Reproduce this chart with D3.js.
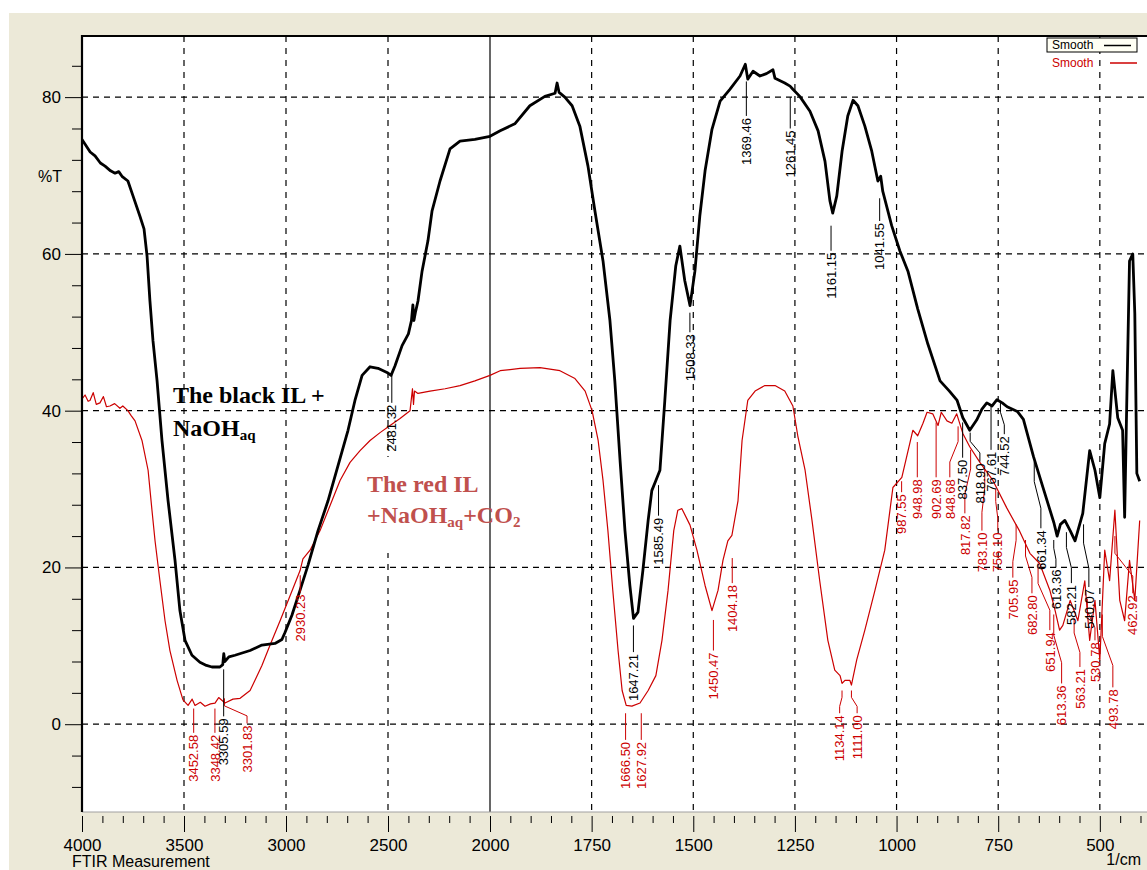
<!DOCTYPE html>
<html><head><meta charset="utf-8">
<script src="https://cdn.jsdelivr.net/npm/d3@7"></script>
<style>body{margin:0;background:#fff}svg{display:block}</style>
</head><body><svg id="c" width="1147" height="870"></svg>
<script>
// ---------- DATA ----------
const blackNu = [4000,3960,3936,3910,3887,3860,3838,3820,3804,3775,3750,3716,3696,3681,3667,3652,3632,3608,3578,3544,3520,3495,3461,3422,3390,3363,3324,3310,3305,3300,3280,3250,3176,3118,3054,3020,3005,2971,2931,2892,2843,2794,2745,2696,2662,2627,2588,2549,2500,2485,2466,2431,2400,2385,2378,2373,2366,2353,2333,2304,2284,2245,2196,2147,2074,2000,1975,1939,1902,1865,1840,1835,1830,1816,1798,1779,1759,1742,1722,1705,1693,1680,1668,1656,1647,1636,1624,1611,1602,1592,1582,1570,1557,1543,1533,1521,1508,1496,1484,1471,1454,1434,1410,1385,1372,1366,1353,1336,1320,1304,1299,1275,1262,1255,1238,1213,1193,1176,1164,1157,1147,1134,1120,1107,1095,1078,1061,1046,1039,1034,1012,992,972,948,923,893,870,851,837,820,803,790,778,765,753,740,728,703,688,663,638,613,605,597,586,573,561,542,525,512,500,488,476,468,456,444,439,434,427,419,414,409,402];
const blackT = [74.6,73.0,72.5,71.6,71.2,70.6,70.3,70.5,69.9,69.3,67.4,64.8,63.2,59.7,54,48.9,43.8,36.2,28.5,20.9,14.5,10.7,8.8,7.9,7.5,7.3,7.3,7.6,9.0,8.0,8.6,8.8,9.4,10.1,10.3,10.8,11.7,13.9,17.1,20.3,24.7,28.5,33,37.5,41.3,44.5,45.6,45.4,44.8,44.5,45.7,48.3,49.8,51.5,53.5,51.5,52.5,54,57.8,61.7,65.5,69.3,73.4,74.4,74.6,75,75.7,76.6,78.9,80.1,80.5,81.8,80.6,80,78.9,76.3,71.2,65.5,59.1,51.5,43.8,33.6,24.7,17.7,13.5,14.3,19.6,26,29.8,31.1,32.4,41.3,51.5,58.5,61,56.6,53.4,57.8,64.8,70.6,75.9,79.5,81,82.7,84.2,82.3,83.3,82.7,83.0,83.5,82.4,81.8,81.4,81,80.1,78.2,75.7,71.8,66.8,65.2,67.4,73.1,77.6,79.6,78.9,76.3,73.1,69.3,69.9,68,63.6,60.4,57.8,53,48.5,43.8,42.5,41.3,39.1,37.5,38.8,40.2,41,40.6,41.4,41.0,40.5,39.9,38.9,34.1,29.9,25.7,24.0,25.5,26,24.7,23.4,26.9,34.9,32.4,28.9,35.8,38.3,45.1,39.1,37.5,26.4,40.4,59.1,60,52.4,32,31];

const redNu = [4000,3985,3970,3961,3945,3930,3912,3895,3880,3863,3840,3814,3800,3775,3760,3740,3706,3676,3657,3642,3618,3593,3569,3534,3505,3480,3460,3446,3420,3397,3370,3348,3330,3299,3260,3225,3176,3152,3118,3078,3029,2980,2931,2917,2882,2833,2784,2735,2686,2637,2588,2539,2490,2441,2392,2380,2375,2370,2353,2294,2220,2147,2074,2000,1975,1926,1877,1828,1791,1766,1749,1734,1722,1710,1698,1685,1675,1665,1651,1631,1611,1592,1577,1562,1548,1538,1528,1508,1491,1471,1454,1439,1427,1415,1405,1390,1380,1366,1348,1324,1299,1275,1255,1243,1225,1208,1189,1169,1152,1139,1134,1127,1115,1111,1098,1078,1053,1029,1009,987,960,948,935,925,911,898,890,876,864,852,837,820,795,763,729,697,672,648,623,610,599,591,573,554,537,525,512,500,488,476,463,451,439,427,414,402];
const redT = [41.5,42.0,41.2,41.3,42.3,40.8,41.0,41.8,40.5,40.6,40.9,40.3,40.6,40,39.4,38.7,36.2,32.4,27.3,23.4,18.3,13.2,9.4,5.6,3.1,2.4,3.2,2.4,2.8,2.3,2.6,2.7,3.4,2.7,3.2,3.3,4.3,5.6,7.5,10.1,13.2,16.4,19.6,21.1,22.2,24.7,27.9,31.1,33.4,34.9,36.2,37.2,38.1,39,40,42.8,40.8,42.5,42.2,42.5,42.8,43.2,43.8,44.5,45.1,45.4,45.5,45.1,44.1,42.5,40,36.2,31.1,24.7,17.1,9.4,4.3,2.4,2.3,2.7,4.3,6.2,10.7,17.1,24.7,27.3,27.5,25.4,22.2,17.7,14.5,17.1,20.9,23.4,24.1,28.5,36.2,41.3,42.5,43.2,43.2,42.5,40.6,36.8,32.4,26,18.3,10.7,6.9,6.2,5.2,5.6,5.6,5.0,8.2,12,17.1,22.2,30.2,31.5,37.5,36.8,38.4,39.8,39.6,38.1,39.8,38.7,38.4,39.6,37.1,35.4,33.4,31.1,27.6,24.6,21.8,20.5,17.1,14.5,12,12.6,15.8,13.2,18.3,10.7,15.8,8.2,22.2,18.3,27.3,15.8,13.2,20.9,15.8,26];

// peak labels: wavenumber, %T where leader starts, %T where text starts, wavenumber where text sits
const blackPeaks = [
  {nu:3305.59, from:7.0, to:1.0},
  {nu:2481.32, from:44.5, to:41.0},
  {nu:1647.21, from:12.6, to:9.2},
  {nu:1585.49, from:30.5, to:26.6},
  {nu:1508.33, from:52.5, to:50.0},
  {nu:1369.46, from:82.0, to:77.6},
  {nu:1261.45, from:80.0, to:76.0},
  {nu:1161.15, from:63.6, to:60.4},
  {nu:1041.55, from:67.1, to:64.2},
  {nu:837.50, from:38.5, to:34.0},
  {nu:818.90, from:37.2, to:33.5, textNu:795},
  {nu:767.61, from:40.6, to:35.0},
  {nu:744.52, from:41.0, to:37.0, textNu:735},
  {nu:661.34, from:33.5, to:25.0, textNu:645},
  {nu:613.36, from:23.5, to:20.0, textNu:608},
  {nu:582.21, from:24.5, to:18.0, textNu:570},
  {nu:540.07, from:25.5, to:17.5, textNu:527}
];
const redPeaks = [
  {nu:3452.58, from:2.0, to:-1.1},
  {nu:3348.42, from:2.0, to:-1.1},
  {nu:3301.83, from:3.3, to:0.1, textNu:3191},
  {nu:2930.23, from:19.0, to:16.8},
  {nu:1666.50, from:1.4, to:-2.0},
  {nu:1627.92, from:1.4, to:-2.0},
  {nu:1450.47, from:13.3, to:9.4},
  {nu:1404.18, from:21.2, to:18.0},
  {nu:1134.14, from:4.3, to:1.4, textNu:1140},
  {nu:1111.00, from:4.3, to:1.4, textNu:1097},
  {nu:987.55, from:31.0, to:29.6},
  {nu:948.98, from:36.0, to:31.5},
  {nu:902.69, from:38.5, to:31.5},
  {nu:848.68, from:38.0, to:31.5, textNu:869},
  {nu:817.82, from:35.0, to:26.9, textNu:832},
  {nu:783.10, from:32.5, to:24.7, textNu:790},
  {nu:756.10, from:30.0, to:24.7, textNu:751},
  {nu:705.95, from:25.5, to:18.7, textNu:714},
  {nu:682.80, from:23.5, to:16.7, textNu:667},
  {nu:651.94, from:20.5, to:12.0, textNu:623},
  {nu:613.36, from:14.0, to:5.2, textNu:594},
  {nu:563.21, from:13.5, to:7.3, textNu:549},
  {nu:530.78, from:16.0, to:10.7, textNu:512},
  {nu:493.78, from:14.0, to:4.7, textNu:468},
  {nu:462.92, from:24.0, to:16.7, textNu:419}
];

const xMajorTicks = [4000,3500,3000,2500,2000,1750,1500,1250,1000,750,500];
const xGridLines = [3500,3000,2500,1750,1500,1250,1000,750,500];
const yMajorTicks = [0,20,40,60,80];
const legendLabels = ["Smooth","Smooth"];

// ---------- LAYOUT ----------
const W=1147,H=870, L=82, T=36, R=1147, B=812;
const sans = "'Liberation Sans', Arial, sans-serif";
const serif = "'Liberation Serif', 'Times New Roman', serif";
const RED = "#cc0000", ANN_RED = "#c0504d";
const svg = d3.select('#c');

const x = d3.scaleLinear().domain([4000,2000,384]).range([L,490,R]);
const y = d3.scaleLinear().domain([-11.2,87.8]).range([B,T]);

svg.append('rect').attr('x',9).attr('y',13).attr('width',W-9).attr('height',H-13).attr('fill','#ece9d8');
svg.append('rect').attr('x',L).attr('y',T).attr('width',R-L).attr('height',B-T).attr('fill','#fff');

svg.append('clipPath').attr('id','pc').append('rect').attr('x',L).attr('y',T).attr('width',R-L).attr('height',B-T);
const plot = svg.append('g').attr('clip-path','url(#pc)');

// grid
plot.selectAll('.hg').data(yMajorTicks).join('line')
  .attr('x1',L).attr('x2',R).attr('y1',d=>y(d)).attr('y2',d=>y(d))
  .attr('stroke','#000').attr('stroke-width',1.2).attr('stroke-dasharray','6,5');
plot.selectAll('.vg').data(xGridLines).join('line')
  .attr('y1',T).attr('y2',B).attr('x1',d=>x(d)).attr('x2',d=>x(d))
  .attr('stroke','#000').attr('stroke-width',1.2).attr('stroke-dasharray','6,6');
plot.append('line').attr('x1',x(2000)).attr('x2',x(2000)).attr('y1',T).attr('y2',B)
  .attr('stroke','#000').attr('stroke-width',1.2);

// white patch behind red annotation
plot.append('rect').attr('x',362).attr('y',457).attr('width',124).attr('height',96).attr('fill','#fff');

// curves
const line = d3.line().x(d=>x(d[0])).y(d=>y(d[1]));
plot.append('path').datum(d3.zip(redNu, redT)).attr('d',line)
  .attr('fill','none').attr('stroke',RED).attr('stroke-width',1.2).attr('stroke-linejoin','round');
plot.append('path').datum(d3.zip(blackNu, blackT)).attr('d',line)
  .attr('fill','none').attr('stroke','#000').attr('stroke-width',2.8).attr('stroke-linejoin','round');

// peak labels
const fmt = d3.format('.2f');
function drawPeaks(arr, color){
  const g = plot.append('g');
  arr.forEach(d=>{
    const x0 = x(d.nu), xt = x(d.textNu ?? d.nu), y0 = y(d.from), y1 = y(d.to);
    let p;
    if (Math.abs(xt-x0) < 0.5) p = `M${x0},${y0}V${y1}`;
    else { const a = y0+(y1-y0)*0.3, b = y0+(y1-y0)*0.7; p = `M${x0},${y0}V${a}L${xt},${b}V${y1}`; }
    g.append('path').attr('d',p).attr('fill','none').attr('stroke',color).attr('stroke-width',1);
    g.append('text').attr('transform',`translate(${xt},${y1+2}) rotate(-90)`)
      .attr('text-anchor','end').attr('dy','0.36em')
      .attr('font-family',sans).attr('font-size',13).attr('fill',color).text(fmt(d.nu));
  });
}
drawPeaks(redPeaks, RED);
drawPeaks(blackPeaks, '#000');

// annotations
const annSize = 24, subSize = 15;
const a1 = svg.append('text').attr('x',173).attr('y',403).attr('font-family',serif).attr('font-weight','bold').attr('font-size',annSize).attr('fill','#000');
a1.text('The black IL +');
const a2 = svg.append('text').attr('x',173).attr('y',436).attr('font-family',serif).attr('font-weight','bold').attr('font-size',annSize).attr('fill','#000');
a2.append('tspan').text('NaOH');
a2.append('tspan').attr('font-size',subSize).attr('dy',4).text('aq');
const r1 = svg.append('text').attr('x',367).attr('y',492).attr('font-family',serif).attr('font-weight','bold').attr('font-size',annSize).attr('fill',ANN_RED);
r1.text('The red IL');
const r2 = svg.append('text').attr('x',367).attr('y',523).attr('font-family',serif).attr('font-weight','bold').attr('font-size',annSize).attr('fill',ANN_RED);
r2.append('tspan').text('+NaOH');
r2.append('tspan').attr('font-size',subSize).attr('dy',4).text('aq');
r2.append('tspan').attr('dy',-4).text('+CO');
r2.append('tspan').attr('font-size',subSize).attr('dy',4).text('2');

// borders
svg.append('line').attr('x1',L).attr('x2',R).attr('y1',B).attr('y2',B).attr('stroke','#a0a0a0').attr('stroke-width',1);
svg.append('line').attr('x1',L).attr('x2',R).attr('y1',T).attr('y2',T).attr('stroke','#000').attr('stroke-width',2);

// axes
function styleAxis(g){
  g.select('.domain').remove();
  g.selectAll('line').attr('stroke','#000').attr('stroke-width',1);
  g.selectAll('text').attr('font-family',sans).attr('font-size',17).attr('fill','#000');
}
const yMinor = d3.range(-8, 85, 4).filter(v=>v%20!==0);
svg.append('g').attr('transform',`translate(${L},0)`).call(d3.axisLeft(y).tickValues(yMinor).tickSize(10).tickFormat('')).call(styleAxis);
svg.append('g').attr('transform',`translate(${L},0)`).call(d3.axisLeft(y).tickValues(yMajorTicks).tickSize(17).tickPadding(4).tickFormat(d3.format('d'))).call(styleAxis);
svg.append('line').attr('x1',L).attr('x2',L).attr('y1',T-1).attr('y2',B).attr('stroke','#000').attr('stroke-width',2.2);

const xMinor = d3.range(3900,2000,-100).concat(d3.range(1950,399,-50)).filter(v=>!xMajorTicks.includes(v));
svg.append('g').attr('transform',`translate(0,816)`).call(d3.axisBottom(x).tickValues(xMinor).tickSize(7).tickFormat('')).call(styleAxis);
svg.append('g').attr('transform',`translate(0,816)`).call(d3.axisBottom(x).tickValues(xMajorTicks).tickSize(16).tickPadding(7).tickFormat(d3.format('d'))).call(styleAxis);

svg.append('text').attr('x',38).attr('y',182).attr('font-family',sans).attr('font-size',16).text('%T');
svg.append('text').attr('x',72).attr('y',867).attr('font-family',sans).attr('font-size',16).text('FTIR Measurement');
svg.append('text').attr('x',1141).attr('y',865).attr('text-anchor','end').attr('font-family',sans).attr('font-size',16).text('1/cm');

// legend
const lg = svg.append('g');
lg.append('rect').attr('x',1047).attr('y',38).attr('width',90).attr('height',14).attr('fill','#fffff4').attr('stroke','#000').attr('stroke-width',1);
lg.append('text').attr('x',1052).attr('y',49).attr('font-family',sans).attr('font-size',12).attr('fill','#000').text(legendLabels[0]);
lg.append('line').attr('x1',1104).attr('x2',1131).attr('y1',45.5).attr('y2',45.5).attr('stroke','#000').attr('stroke-width',1.5);
lg.append('text').attr('x',1052).attr('y',67).attr('font-family',sans).attr('font-size',12).attr('fill',RED).text(legendLabels[1]);
lg.append('line').attr('x1',1110).attr('x2',1137).attr('y1',63).attr('y2',63).attr('stroke',RED).attr('stroke-width',1.5);
</script></body></html>
